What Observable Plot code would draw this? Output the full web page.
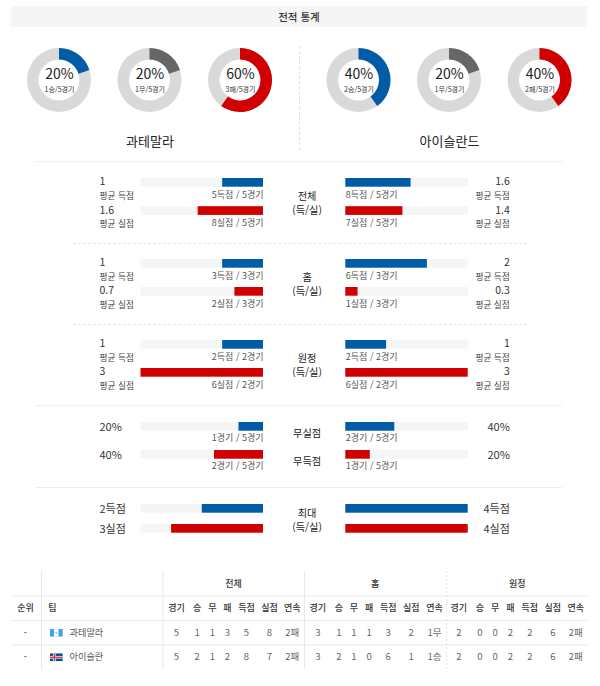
<!DOCTYPE html>
<html lang="ko">
<head>
<meta charset="utf-8">
<script src="https://cdn.jsdelivr.net/npm/d3@7"></script>
<script src="https://cdn.jsdelivr.net/npm/@observablehq/plot@0.6"></script>
<style>
html,body{margin:0;padding:0;background:#fff}
#page{position:relative;width:600px;height:686px;overflow:hidden;font-family:"Noto Sans CJK KR","Noto Sans",sans-serif}
#page svg{position:absolute;overflow:visible;max-width:none}
.title{position:absolute;left:11px;top:6px;width:576px;height:21px;line-height:21px;background:#f5f5f5;text-align:center;font-size:10.5px;font-weight:500;color:#333}
.rule{position:absolute;height:0;border-top:1px solid #eeeeee}
.rule.dot{border-top:1px dashed #e6e6e6}
.vrule{position:absolute;width:0;border-left:1px dashed #e0e0e0}
</style>
</head>
<body>
<div id="page"><div class="title">전적 통계</div></div>
<script>
// ---------- data ----------
const teams = ["과테말라", "아이슬란드"];
const outcomeKeys = ["win", "draw", "loss"];
const outcomeNames = ["승", "무", "패"];
const guatemalaCounts = [1, 1, 3];
const icelandCounts = [2, 1, 2];
const gamesPlayed = 5;

const sectionKinds = ["avg", "avg", "avg", "rate", "max"];
const sectionTitles = [["전체", "(득/실)"], ["홈", "(득/실)"], ["원정", "(득/실)"], ["무실점", "무득점"], ["최대", "(득/실)"]];
const sectionMax = [3, 3, 3, 100, 4];
const guatemalaValues = [[1, 1.6], [1, 0.7], [1, 3], [20, 40], [2, 3]];
const icelandValues = [[1.6, 1.4], [2, 0.3], [1, 3], [40, 20], [4, 4]];
const guatemalaNotes = [["5득점 / 5경기", "8실점 / 5경기"], ["3득점 / 3경기", "2실점 / 3경기"], ["2득점 / 2경기", "6실점 / 2경기"], ["1경기 / 5경기", "2경기 / 5경기"], ["", ""]];
const icelandNotes = [["8득점 / 5경기", "7실점 / 5경기"], ["6득점 / 3경기", "1실점 / 3경기"], ["2득점 / 2경기", "6실점 / 2경기"], ["2경기 / 5경기", "1경기 / 5경기"], ["", ""]];

const tableGroups = ["전체", "홈", "원정"];
const tableColumns = ["경기", "승", "무", "패", "득점", "실점", "연속"];
const tableTeams = ["과테말라", "아이슬란"];
const tableRanks = ["-", "-"];
const guatemalaTable = [[5, 1, 1, 3, 5, 8, "2패"], [3, 1, 1, 1, 3, 2, "1무"], [2, 0, 0, 2, 2, 6, "2패"]];
const icelandTable = [[5, 2, 1, 2, 8, 7, "2패"], [3, 2, 1, 0, 6, 1, "1승"], [2, 0, 0, 2, 2, 6, "2패"]];

// ---------- styles and layout ----------
const BLUE = "#005ca6", RED = "#d00000", GREY = "#666666", TRACK = "#d9d9d9", BAR_BG = "#f5f5f5";
const FONT = '"Noto Sans CJK KR","Noto Sans",sans-serif';
const outcomeColors = [BLUE, GREY, RED];
const page = document.getElementById("page");

function place(svg, left, top) {
  svg.style.left = left + "px";
  svg.style.top = top + "px";
  svg.style.height = svg.getAttribute("height") + "px";
  svg.style.background = "transparent";
  page.appendChild(svg);
}
function hline(x1, x2, y, dotted) {
  const d = document.createElement("div");
  d.className = "rule" + (dotted ? " dot" : "");
  d.style.cssText = `left:${x1}px;width:${x2 - x1}px;top:${y}px`;
  page.appendChild(d);
}
[[35, 562, 161, false], [73, 527, 243, true], [73, 527, 324, true], [35, 562, 405, false], [35, 562, 487, false]]
  .forEach(r => hline(...r));
const v = document.createElement("div");
v.className = "vrule";
v.style.cssText = "left:299px;top:46px;height:104px";
page.appendChild(v);

// ---------- donuts ----------
function donuts(counts, team, left, range) {
  const data = outcomeKeys.map((key, i) => ({
    key, count: counts[i], share: counts[i] / gamesPlayed, color: outcomeColors[i],
    pct: Math.round(counts[i] / gamesPlayed * 100) + "%",
    note: `${counts[i]}${outcomeNames[i]}/${gamesPlayed}경기`
  }));
  const cy = 40, ro = 32, ri = 20.5;
  const arc = d3.arc().innerRadius(ri).outerRadius(ro);
  const rings = (index, scales) => {
    const g = d3.create("svg:g");
    for (const d of data) {
      const c = g.append("g").attr("transform", `translate(${scales.x(d.key)},${cy})`);
      c.append("path").attr("fill", TRACK).attr("d", arc({startAngle: 0, endAngle: 2 * Math.PI}));
      c.append("path").attr("fill", d.color).attr("d", arc({startAngle: 0, endAngle: d.share * 2 * Math.PI}));
    }
    return g.node();
  };
  const svg = Plot.plot({
    width: 300, height: 120, margin: 0,
    style: {fontFamily: FONT, background: "transparent"},
    x: {type: "point", domain: outcomeKeys, range, padding: 0, round: false, axis: null},
    marks: [
      rings,
      Plot.text(data, {x: "key", frameAnchor: "top", lineAnchor: "middle", dy: 34.2, text: "pct", fontSize: 14, fill: "#222"}),
      Plot.text(data, {x: "key", frameAnchor: "top", lineAnchor: "middle", dy: 49.6, text: "note", fontSize: 7, fill: "#333"}),
      Plot.text([team], {x: () => "draw", frameAnchor: "top", lineAnchor: "middle", dy: 101, text: d => d, fontSize: 13, fill: "#222"})
    ]
  });
  place(svg, left, 40);
}
donuts(guatemalaCounts, teams[0], 0, [59, 240]);
donuts(icelandCounts, teams[1], 300, [58.5, 539.5 - 300]);

// ---------- bar sections ----------
const barTops = [178, 259, 340, 422, 504];
const barSteps = [28.2, 28, 28, 28, 20];
const barThick = 8.7;
const rowKeys = ["득점", "실점"];
const rowColors = [BLUE, RED];

function valueLabel(kind, value, i) {
  if (kind === "rate") return value + "%";
  if (kind === "max") return value + (i === 0 ? "득점" : "실점");
  return String(value);
}
function barPanel(s, side) {
  const isLeft = side === "left";
  const kind = sectionKinds[s], max = sectionMax[s], step = barSteps[s];
  const values = isLeft ? guatemalaValues[s] : icelandValues[s];
  const notes = isLeft ? guatemalaNotes[s] : icelandNotes[s];
  const rows = rowKeys.map((key, i) => ({
    key, value: values[i], color: rowColors[i], note: notes[i],
    label: valueLabel(kind, values[i], i), caption: "평균 " + key
  }));
  const pad = 10;
  const anchorOut = isLeft ? "start" : "end";
  const anchorIn = isLeft ? "end" : "start";
  const outerDx = isLeft ? -41.5 : 41.6;
  const marks = [
    Plot.barX(rows, {x1: () => 0, x2: () => max, y: "key", fill: BAR_BG}),
    Plot.barX(rows, {x1: () => 0, x2: "value", y: "key", fill: "color"}),
    Plot.text(rows, {x: () => max, y: "key", dx: outerDx, dy: kind === "avg" ? -0.8 : 0.5, text: "label", textAnchor: anchorOut,
      fontSize: kind === "avg" ? 10.5 : 11, fill: "#333"})
  ];
  if (kind === "avg") {
    marks.push(Plot.text(rows, {x: () => max, y: "key", dx: outerDx, dy: 13, text: "caption", textAnchor: anchorOut, fontSize: 8.7, fill: "#444"}));
  }
  if (kind !== "max") {
    const noteDy = kind === "rate" ? 11.5 : 12.5;
    marks.push(Plot.text(rows, {x: () => 0, y: "key", dy: noteDy, text: "note", textAnchor: anchorIn, fontSize: 9, fill: "#555"}));
  }
  if (!isLeft) {
    const t = sectionTitles[s];
    const dys = kind === "avg" ? [13.6, 0] : kind === "rate" ? [6.5, 6.5] : [4.5, -1];
    marks.push(Plot.text(rowKeys.map((k, i) => ({k, t: t[i]})).slice(0, 1),
      {x: () => 0, y: "k", dx: -38.7, dy: dys[0], text: "t", fontSize: 10.2, fill: "#222"}));
    marks.push(Plot.text(rowKeys.map((k, i) => ({k, t: t[i]})).slice(1),
      {x: () => 0, y: "k", dx: -38.7, dy: dys[1], text: "t", fontSize: 10.2, fill: "#222"}));
  }
  const svg = Plot.plot({
    width: 300, height: 70, marginTop: 0, marginBottom: 0,
    marginLeft: isLeft ? 140.5 : 45.3, marginRight: isLeft ? 37 : 132.3,
    style: {fontFamily: FONT, background: "transparent"},
    x: {domain: isLeft ? [max, 0] : [0, max], axis: null},
    y: {domain: rowKeys, range: [pad, pad + step + barThick], paddingInner: 1 - barThick / step, paddingOuter: 0, round: false, axis: null},
    marks
  });
  place(svg, isLeft ? 0 : 300, barTops[s] - pad);
}
sectionKinds.forEach((_, s) => { barPanel(s, "left"); barPanel(s, "right"); });

// ---------- standings table ----------
const groupColumnCenters = [
  [176, 196.7, 212, 227, 246, 269, 291.7],
  [317.3, 338.3, 353.3, 368.7, 387.7, 410.7, 434],
  [458.3, 479.3, 494.7, 510, 529.3, 552.3, 575.3]
];
const groupCenters = [233, 374.7, 516.7];
const flagGuatemala = "data:image/svg+xml," + encodeURIComponent('<svg xmlns="http://www.w3.org/2000/svg" width="13" height="8"><rect width="13" height="8" fill="#3aa5e6"/><rect x="4.3" width="4.4" height="8" fill="#fff"/><circle cx="6.5" cy="4" r="1" fill="#9bb"/></svg>');
const flagIceland = "data:image/svg+xml," + encodeURIComponent('<svg xmlns="http://www.w3.org/2000/svg" width="13" height="8"><rect width="13" height="8" fill="#02529c"/><rect x="3.2" width="2.6" height="8" fill="#fff"/><rect y="2.7" width="13" height="2.6" fill="#fff"/><rect x="3.9" width="1.2" height="8" fill="#dc1e35"/><rect y="3.4" width="13" height="1.2" fill="#dc1e35"/></svg>');
const flags = [flagGuatemala, flagIceland];

const headerCells = [], bodyCells = [];
tableGroups.forEach((g, gi) => {
  headerCells.push({x: groupCenters[gi], row: 0.5, text: g});
  tableColumns.forEach((c, ci) => {
    const x = groupColumnCenters[gi][ci];
    headerCells.push({x, row: 1.5, text: c});
    bodyCells.push({x, row: 2.5, text: String(guatemalaTable[gi][ci])});
    bodyCells.push({x, row: 3.5, text: String(icelandTable[gi][ci])});
  });
});
headerCells.push({x: 25, row: 1.5, text: "순위"});
headerCells.push({x: 52, row: 1.5, text: "팀"});
const teamRows = tableTeams.map((t, i) => ({team: t, rank: tableRanks[i], flag: flags[i], row: 2.5 + i}));

place(Plot.plot({
  width: 600, height: 98, margin: 0,
  style: {fontFamily: FONT, background: "transparent"},
  x: {domain: [0, 600], range: [0, 600], axis: null},
  y: {domain: [0, 4], range: [0, 98], axis: null},
  marks: [
    Plot.ruleY([1, 2, 3], {x1: () => 11, x2: () => 587, stroke: "#e8e8e8", strokeWidth: 1}),
    Plot.ruleX([41, 162.5, 304], {y1: () => 0, y2: () => 4, stroke: "#e8e8e8", strokeWidth: 1}),
    Plot.ruleX([446], {y1: () => 0, y2: () => 4, stroke: "#e4e4e4", strokeWidth: 1, strokeDasharray: "2,2"}),
    Plot.text(headerCells, {x: "x", y: "row", text: "text", fontSize: 9, fontWeight: 500, fill: "#333"}),
    Plot.text(bodyCells, {x: "x", y: "row", text: "text", fontSize: 9.5, fill: "#666"}),
    Plot.text(teamRows, {x: () => 25, y: "row", text: "rank", fontSize: 9.5, fill: "#444"}),
    Plot.image(teamRows, {x: () => 55.8, y: "row", src: "flag", width: 13, height: 8, preserveAspectRatio: "none"}),
    Plot.text(teamRows, {x: () => 69, y: "row", text: "team", textAnchor: "start", fontSize: 9.2, fill: "#555"})
  ]
}), 0, 571);
</script>
</body>
</html>
